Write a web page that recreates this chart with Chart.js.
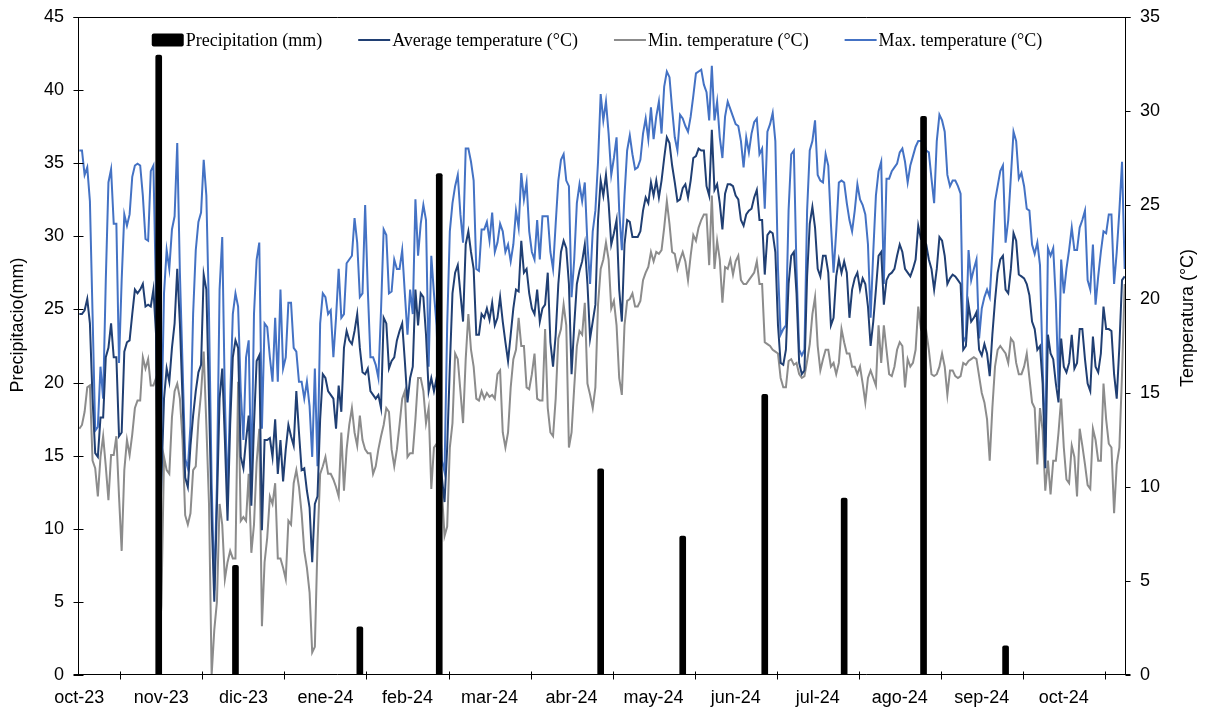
<!DOCTYPE html>
<html>
<head>
<meta charset="utf-8">
<title>Precipitación y temperatura diaria</title>
<script src="https://cdn.jsdelivr.net/npm/chart.js@4.4.1/dist/chart.umd.min.js"></script>
<style>
  html, body { margin: 0; padding: 0; background: #ffffff; }
  #wrap { width: 1206px; height: 710px; }
</style>
</head>
<body>
<div id="wrap"><canvas id="chart" width="1206" height="710"></canvas></div>
<script>
// Daily series, one value per day starting on START_DATE
const START_DATE = '2023-10-01';

const MONTH_LABELS = ['oct-23', 'nov-23', 'dic-23', 'ene-24', 'feb-24', 'mar-24', 'abr-24',
  'may-24', 'jun-24', 'jul-24', 'ago-24', 'sep-24', 'oct-24'];
const LABEL_STEP = 31;   // one month label every 31 days
const TICK_OFFSET = 16;  // tick marks sit half-way between month labels

// Rainfall events: day offset from START_DATE and amount (mm)
const RAIN_DAY = [30, 59, 106, 136, 197, 228, 259, 289, 319, 350];
const RAIN_MM = [42.4, 7.5, 3.3, 34.3, 14.1, 9.5, 19.2, 12.1, 38.2, 2.0];

const TEMP_AVG = [
  19.2, 19.2, 19.4, 20.0, 18.7, 14.7, 11.8, 11.6, 13.7, 13.7,
  16.9, 17.4, 18.7, 16.9, 16.9, 12.7, 12.9, 17.2, 17.7, 17.8,
  19.2, 20.5, 20.3, 20.5, 20.8, 19.6, 19.7, 19.6, 20.5, 18.1,
  5.5, 10.2, 14.7, 16.3, 15.6, 17.4, 18.7, 21.6, 18.7, 14.7,
  10.5, 10.0, 12.2, 13.8, 15.1, 16.1, 16.5, 21.3, 20.5, 14.7,
  8.4, 3.9, 9.0, 14.7, 16.3, 12.5, 8.2, 13.3, 16.9, 17.8,
  17.4, 11.6, 11.0, 12.5, 13.8, 9.0, 13.3, 16.7, 17.0, 7.7,
  12.5, 12.5, 12.6, 11.6, 13.6, 10.7, 12.5, 10.3, 12.0, 13.3,
  12.7, 12.2, 15.1, 12.9, 10.9, 11.0, 9.8, 8.9, 6.0, 9.1,
  9.5, 13.6, 16.0, 15.8, 15.1, 14.9, 14.7, 13.1, 15.4, 14.0,
  17.4, 18.3, 17.8, 17.6, 18.3, 19.2, 17.4, 16.1, 16.0, 16.3,
  15.1, 14.9, 14.7, 14.9, 14.2, 19.0, 18.7, 16.3, 16.7, 16.9,
  17.8, 18.3, 18.7, 16.7, 14.5, 15.8, 16.4, 20.5, 18.6, 20.3,
  20.1, 18.1, 15.1, 15.8, 15.1, 15.8, 12.1, 10.5, 9.2, 12.1,
  16.4, 20.3, 21.4, 21.8, 20.3, 18.8, 22.9, 23.6, 22.5, 21.6,
  18.1, 18.1, 19.2, 19.0, 19.5, 18.9, 19.8, 18.6, 19.0, 20.1,
  18.8, 17.7, 16.7, 18.1, 19.5, 20.5, 20.4, 23.1, 21.4, 21.6,
  20.3, 19.5, 19.2, 20.5, 18.8, 19.5, 19.7, 21.4, 17.7, 16.4,
  18.1, 20.8, 22.5, 23.1, 22.7, 20.8, 16.0, 18.6, 20.8, 21.5,
  22.0, 22.9, 20.8, 17.9, 18.8, 19.7, 24.2, 26.3, 25.5, 26.6,
  25.1, 22.9, 23.5, 24.2, 20.5, 18.8, 22.9, 24.2, 24.1, 23.3,
  23.3, 23.3, 23.6, 24.7, 25.4, 25.1, 26.2, 25.5, 26.3, 25.4,
  26.3, 27.5, 28.6, 28.3, 27.1, 26.2, 25.2, 25.3, 25.9, 26.1,
  25.4, 26.3, 27.5, 27.6, 28.0, 27.9, 27.9, 26.0, 25.5, 29.0,
  25.8, 26.1, 25.1, 23.7, 25.6, 26.1, 26.1, 26.0, 25.5, 25.3,
  24.2, 23.9, 24.5, 24.7, 24.8, 25.4, 25.8, 24.2, 24.2, 21.3,
  23.4, 23.6, 23.5, 22.5, 18.6, 16.6, 16.5, 17.3, 20.8, 22.3,
  22.5, 20.3, 16.6, 16.0, 16.2, 21.2, 24.0, 24.9, 23.8, 21.6,
  21.2, 22.3, 22.3, 21.4, 18.6, 19.0, 21.2, 22.1, 21.4, 22.0,
  21.4, 19.0, 20.5, 21.1, 21.4, 20.5, 21.1, 20.8, 19.6, 17.5,
  18.8, 20.5, 22.3, 22.5, 19.7, 21.0, 21.3, 21.4, 21.6, 22.3,
  22.9, 22.5, 21.6, 21.4, 21.2, 21.6, 22.1, 23.9, 23.2, 23.1,
  22.9, 22.1, 21.6, 20.5, 21.6, 23.3, 23.1, 22.3, 20.8, 21.1,
  21.3, 21.2, 21.0, 20.8, 17.3, 17.5, 19.7, 18.8, 19.0, 19.3,
  17.3, 17.0, 17.6, 17.1, 15.9, 18.1, 19.9, 21.4, 22.1, 22.3,
  20.5, 20.3, 21.6, 23.5, 23.1, 21.3, 21.2, 21.1, 20.8, 20.2,
  18.8, 18.4, 17.3, 17.5, 15.5, 11.0, 18.1, 17.1, 16.8, 15.5,
  14.5, 17.9, 16.4, 16.1, 16.6, 18.1, 16.3, 16.6, 18.4, 18.4,
  16.8, 15.5, 15.1, 18.0, 16.4, 16.1, 17.1, 19.6, 18.4, 18.4,
  18.3, 16.0, 14.7, 17.5, 21.0, 21.2
];

const TEMP_MIN = [
  13.1, 13.3, 14.0, 15.3, 15.4, 11.4, 11.0, 9.5, 11.6, 12.7,
  11.1, 9.3, 11.7, 11.7, 12.7, 9.5, 6.6, 10.9, 12.5, 11.7,
  12.8, 14.2, 14.6, 14.6, 16.9, 16.3, 16.8, 15.4, 15.4, 15.8,
  1.2, 3.7, 11.6, 10.9, 10.7, 13.7, 15.1, 15.5, 14.7, 12.5,
  8.5, 8.0, 8.6, 10.9, 11.1, 13.5, 15.0, 17.2, 13.3, 9.1,
  0.0, 2.4, 3.9, 9.1, 8.0, 5.1, 6.0, 6.6, 6.2, 6.2,
  15.6, 8.2, 8.4, 8.2, 10.7, 6.5, 8.0, 11.3, 13.1, 2.6,
  6.0, 7.3, 9.5, 9.1, 10.2, 6.2, 6.2, 5.7, 5.1, 8.2,
  8.0, 10.2, 10.9, 10.0, 8.6, 6.6, 5.7, 4.4, 1.2, 1.5,
  7.0, 10.7, 11.1, 11.6, 10.7, 10.7, 10.4, 10.0, 9.5, 12.9,
  9.8, 12.0, 13.3, 14.2, 12.9, 12.2, 13.8, 12.5, 12.0, 11.8,
  11.8, 10.7, 11.1, 12.0, 12.7, 13.3, 14.2, 14.0, 12.0, 11.1,
  12.0, 13.3, 14.7, 15.1, 11.6, 11.8, 11.8, 13.6, 15.8, 15.8,
  15.1, 13.4, 14.2, 9.9, 12.1, 12.3, 10.5, 9.8, 7.4, 7.9,
  12.1, 13.4, 17.1, 16.8, 15.1, 13.4, 16.8, 19.2, 17.3, 16.4,
  14.7, 14.6, 15.1, 14.7, 15.0, 14.8, 14.9, 14.7, 16.0, 16.2,
  12.9, 12.1, 12.9, 15.3, 16.8, 17.3, 19.0, 17.5, 17.5, 15.3,
  15.2, 16.0, 17.1, 14.7, 14.6, 14.6, 18.4, 14.2, 12.9, 12.7,
  14.7, 17.9, 18.4, 19.7, 18.6, 12.1, 12.9, 15.3, 17.5, 18.3,
  18.1, 19.8, 15.5, 14.9, 14.2, 15.3, 19.7, 21.6, 22.1, 23.0,
  22.1, 19.5, 19.9, 18.6, 15.8, 14.9, 18.6, 19.9, 20.0, 20.3,
  19.6, 19.6, 19.9, 21.0, 21.4, 21.7, 22.5, 22.0, 22.5, 22.4,
  22.6, 23.8, 25.2, 24.0, 22.5, 22.4, 21.6, 22.1, 22.5, 22.0,
  21.0, 22.3, 23.4, 23.1, 23.8, 24.2, 24.5, 24.5, 21.8, 25.5,
  21.6, 23.1, 22.1, 19.8, 21.7, 21.6, 22.1, 21.3, 22.0, 22.3,
  21.0, 20.8, 20.8, 21.0, 21.2, 21.4, 22.0, 20.8, 20.8, 17.7,
  17.6, 17.5, 17.3, 17.2, 17.1, 15.8, 15.3, 15.3, 16.7, 16.8,
  16.5, 16.6, 16.0, 15.8, 15.9, 16.7, 17.6, 19.2, 20.1, 17.5,
  16.2, 16.8, 17.3, 17.3, 16.4, 16.6, 16.0, 16.6, 18.4, 17.7,
  17.1, 17.1, 16.4, 16.4, 16.0, 16.4, 15.5, 14.5, 15.8, 16.2,
  15.8, 15.4, 18.6, 16.6, 18.6, 17.3, 16.0, 15.9, 16.4, 17.3,
  17.7, 17.5, 15.3, 16.8, 16.4, 16.6, 17.3, 19.6, 18.4, 18.1,
  18.3, 17.3, 16.0, 15.9, 16.0, 16.4, 17.1, 16.4, 14.9, 16.2,
  16.2, 15.9, 15.8, 15.9, 16.6, 16.5, 16.7, 16.8, 16.9, 16.8,
  15.9, 15.0, 14.5, 13.6, 11.4, 14.2, 16.4, 17.3, 17.5, 17.3,
  17.1, 16.6, 17.9, 17.7, 16.6, 16.0, 16.0, 16.4, 17.1, 15.8,
  14.5, 14.2, 11.2, 14.2, 13.0, 9.8, 11.4, 9.6, 11.4, 11.4,
  12.9, 14.7, 12.1, 10.4, 10.2, 12.2, 11.6, 9.5, 13.1, 12.2,
  11.2, 10.1, 9.9, 13.1, 12.5, 11.4, 11.4, 15.5, 13.6, 12.3,
  12.1, 8.6, 11.2, 12.1, 16.0, 20.8
];

const TEMP_MAX = [
  27.9, 27.9, 26.6, 27.0, 25.2, 19.2, 13.0, 13.2, 16.4, 14.7,
  21.0, 26.2, 26.9, 24.0, 24.0, 16.6, 21.0, 24.5, 23.9, 24.5,
  26.5, 27.1, 27.2, 27.1, 25.5, 23.2, 23.1, 26.8, 27.1, 20.0,
  7.5, 13.0, 20.3, 22.6, 21.6, 23.7, 24.4, 28.3, 21.4, 16.5,
  11.5, 11.0, 13.3, 19.2, 22.6, 24.1, 24.6, 27.4, 25.5, 19.2,
  10.2, 4.5, 10.2, 20.5, 23.3, 14.7, 9.5, 14.7, 19.2, 20.3,
  19.6, 15.1, 12.5, 16.9, 17.8, 10.2, 19.2, 22.1, 23.0, 13.1,
  18.7, 18.5, 16.9, 15.6, 19.0, 15.6, 20.5, 16.3, 16.9, 19.8,
  19.8, 17.4, 17.2, 15.6, 15.6, 14.7, 15.6, 14.3, 11.6, 16.3,
  11.1, 18.7, 20.3, 20.1, 19.2, 19.4, 16.9, 19.0, 21.6, 19.0,
  19.2, 21.9, 22.1, 22.3, 24.3, 23.0, 20.1, 20.3, 25.0, 20.5,
  16.9, 16.9, 16.5, 15.8, 19.4, 23.7, 23.4, 20.3, 20.4, 22.1,
  21.6, 21.6, 22.6, 20.3, 18.1, 20.5, 19.2, 25.3, 22.3, 24.0,
  25.0, 24.2, 16.4, 22.3, 20.3, 18.6, 14.2, 11.4, 10.8, 18.6,
  23.6, 25.1, 26.0, 26.6, 24.5, 23.0, 28.0, 28.0, 27.3, 26.3,
  21.6, 21.5, 23.7, 23.7, 24.1, 23.1, 24.6, 22.5, 23.0, 24.0,
  23.6, 22.5, 22.9, 22.0, 22.9, 24.7, 23.8, 26.7, 25.3, 26.2,
  23.6, 22.5, 22.1, 24.2, 22.1, 24.4, 24.4, 24.4, 22.5, 21.6,
  24.0, 26.3, 27.4, 27.7, 26.3, 26.0, 20.1, 22.1, 25.1, 26.1,
  25.2, 26.2, 22.9, 20.8, 23.6, 24.7, 27.3, 30.9, 29.5, 30.5,
  28.8, 26.6, 27.5, 28.6, 24.7, 22.6, 25.5, 27.9, 28.7, 27.7,
  26.9, 27.0, 27.4, 28.8, 29.6, 28.5, 30.2, 28.5, 29.7, 30.5,
  28.8, 31.3, 32.1, 31.8, 30.1, 28.6, 27.9, 29.8, 29.6, 29.2,
  28.9, 29.7, 30.8, 32.0, 32.1, 32.2, 31.4, 31.0, 29.5, 32.4,
  29.5, 30.5, 28.6, 27.5, 29.7, 30.5, 30.1, 29.7, 29.3, 29.2,
  28.4, 27.0, 28.6, 27.8, 28.8, 29.4, 29.6, 27.7, 28.0, 24.8,
  28.9, 29.3, 29.9, 28.4, 21.6, 18.1, 18.4, 18.6, 24.7, 27.7,
  27.9, 21.6, 17.3, 17.0, 17.3, 24.7, 27.9, 28.4, 29.5, 26.6,
  26.3, 26.2, 27.7, 27.1, 24.0, 21.4, 23.6, 26.2, 26.3, 26.2,
  25.1, 24.2, 23.6, 24.7, 26.1, 25.3, 25.0, 24.5, 22.9, 19.0,
  22.5, 25.5, 26.8, 27.3, 20.8, 26.4, 26.4, 26.8, 27.0, 27.2,
  27.8, 28.0, 27.3, 26.2, 27.1, 27.6, 28.1, 28.4, 28.4, 28.4,
  27.9, 27.8, 26.4, 25.1, 28.4, 29.8, 29.5, 28.9, 26.6, 26.0,
  26.3, 26.3, 26.0, 25.6, 17.7, 18.0, 22.6, 21.0, 21.6, 22.1,
  17.9, 19.5, 20.1, 20.5, 20.1, 22.5, 25.2, 26.0, 26.8, 27.1,
  23.0, 24.2, 26.5, 28.9, 28.4, 26.4, 26.7, 26.0, 24.8, 24.7,
  22.9, 22.4, 23.0, 21.8, 16.4, 12.1, 22.7, 22.3, 22.7, 19.9,
  15.3, 22.1, 20.3, 21.6, 22.6, 23.8, 22.6, 22.6, 23.8, 24.2,
  24.7, 21.0, 20.5, 22.9, 19.7, 21.2, 22.5, 23.6, 23.5, 24.5,
  24.5, 20.8, 22.5, 24.7, 27.3, 21.6
];

// One category per day
const DAY_COUNT = TEMP_AVG.length;
const dayLabels = [];
{
  const d0 = new Date(START_DATE + 'T00:00:00Z');
  for (let i = 0; i < DAY_COUNT; i++) {
    const d = new Date(d0.getTime() + i * 86400000);
    dayLabels.push(d.toISOString().slice(0, 10));
  }
}

// Rain is only recorded on a few days; every other day stays empty
const rainSeries = new Array(DAY_COUNT).fill(null);
RAIN_DAY.forEach((day, k) => { rainSeries[day] = RAIN_MM[k]; });

// Boundaries where the small tick marks of the date axis go
const TICK_DAYS = [];
for (let d = TICK_OFFSET; d < DAY_COUNT; d += LABEL_STEP) TICK_DAYS.push(d);

const SANS = '"Liberation Sans", Arial, sans-serif';
const SERIF = '"Liberation Serif", "Times New Roman", serif';

// Plot frame plus tick marks that cross the axis lines
const framePlugin = {
  id: 'frame',
  afterDraw(chart) {
    const { ctx, chartArea: a, scales } = chart;
    const L = Math.round(a.left) + 0.5;
    const R = Math.round(a.right) - 0.5;
    const T = Math.round(a.top) + 0.5;
    const B = Math.round(a.bottom) - 0.5;
    ctx.save();
    ctx.strokeStyle = '#000';
    ctx.lineWidth = 1;
    ctx.beginPath();
    ctx.moveTo(L - 5, T); ctx.lineTo(R + 5, T);
    ctx.moveTo(L - 5, B); ctx.lineTo(R + 5, B);
    ctx.moveTo(L, T); ctx.lineTo(L, B);
    ctx.moveTo(R, T); ctx.lineTo(R, B);
    scales.y.ticks.forEach(t => {
      const y = Math.round(scales.y.getPixelForValue(t.value)) + 0.5;
      ctx.moveTo(L - 5, y); ctx.lineTo(L + 5, y);
    });
    scales.y1.ticks.forEach(t => {
      const y = Math.round(scales.y1.getPixelForValue(t.value)) + 0.5;
      ctx.moveTo(R, y); ctx.lineTo(R + 5, y);
    });
    TICK_DAYS.forEach(d => {
      const x = Math.round(scales.x.getPixelForValue(d - 0.5)) + 0.5;
      ctx.moveTo(x, B - 3); ctx.lineTo(x, B + 5);
    });
    ctx.stroke();

    // Axis titles, both reading bottom to top
    ctx.fillStyle = '#000';
    ctx.font = '18px ' + SANS;
    ctx.textAlign = 'center';
    ctx.textBaseline = 'middle';
    [['Precipitacio(mm)', 18, 325], ['Temperatura (°C)', 1188, 318]].forEach(([text, x, y]) => {
      ctx.save();
      ctx.translate(x, y);
      ctx.rotate(-Math.PI / 2);
      ctx.fillText(text, 0, 0);
      ctx.restore();
    });
    ctx.restore();
  }
};

// Single-row legend placed inside the top of the plot area
const legendPlugin = {
  id: 'inlineLegend',
  afterDatasetsDraw(chart) {
    const { ctx } = chart;
    const MARK = 32, GAP = 2, SPACE = 36, CENTER_X = 597, Y = 40;
    ctx.save();
    ctx.font = '18px ' + SERIF;
    ctx.textBaseline = 'middle';
    ctx.textAlign = 'left';
    const items = chart.data.datasets.map(ds => ({ ds, w: ctx.measureText(ds.label).width }));
    const total = items.reduce((s, it) => s + MARK + GAP + it.w, 0) + SPACE * (items.length - 1);
    let x = CENTER_X - total / 2;
    items.forEach(({ ds, w }) => {
      if (ds.type === 'bar') {
        ctx.fillStyle = ds.backgroundColor;
        ctx.beginPath();
        ctx.roundRect(x, Y - 6.5, MARK, 13, 2);
        ctx.fill();
      } else {
        ctx.strokeStyle = ds.borderColor;
        ctx.lineWidth = ds.borderWidth;
        ctx.beginPath();
        ctx.moveTo(x, Y);
        ctx.lineTo(x + MARK, Y);
        ctx.stroke();
      }
      ctx.fillStyle = '#000';
      ctx.fillText(ds.label, x + MARK + GAP, Y + 1);
      x += MARK + GAP + w + SPACE;
    });
    ctx.restore();
  }
};

// Vertical axes keep a fixed width and add no extra room above the plot
const fixVertical = width => s => {
  s.width = width;
  s.paddingTop = 0;
  s.paddingBottom = 0;
};

new Chart(document.getElementById('chart'), {
  type: 'bar',
  data: {
    labels: dayLabels,
    datasets: [
      {
        type: 'bar', label: 'Precipitation (mm)', data: rainSeries, yAxisID: 'y',
        backgroundColor: '#000000', borderWidth: 0, barThickness: 6,
        borderRadius: { topLeft: 2, topRight: 2 }, borderSkipped: 'bottom', order: 0
      },
      {
        type: 'line', label: 'Average temperature (°C)', data: TEMP_AVG, yAxisID: 'y1',
        borderColor: '#203f73', borderWidth: 2, pointRadius: 0, tension: 0, order: 1
      },
      {
        type: 'line', label: 'Min. temperature (°C)', data: TEMP_MIN, yAxisID: 'y1',
        borderColor: '#8c8c8c', borderWidth: 2, pointRadius: 0, tension: 0, order: 2
      },
      {
        type: 'line', label: 'Max. temperature (°C)', data: TEMP_MAX, yAxisID: 'y1',
        borderColor: '#4472c4', borderWidth: 2, pointRadius: 0, tension: 0, order: 3
      }
    ]
  },
  options: {
    responsive: false,
    animation: false,
    devicePixelRatio: 1,
    events: [],
    layout: { padding: { top: 17, left: 0, right: 0, bottom: 0 } },
    plugins: {
      tooltip: { enabled: false },
      legend: { display: false }
    },
    scales: {
      x: {
        type: 'category',
        offset: true,
        grid: { display: false, drawTicks: false },
        border: { display: false },
        ticks: {
          autoSkip: false, maxRotation: 0, minRotation: 0, padding: 12,
          color: '#000', font: { family: SANS, size: 18 },
          callback: (value, index) => (index % LABEL_STEP === 0 ? MONTH_LABELS[index / LABEL_STEP] : '')
        },
        afterFit: s => { s.height = 35; }
      },
      y: {
        position: 'left', min: 0, max: 45,
        grid: { display: false, drawTicks: false },
        border: { display: false },
        ticks: { stepSize: 5, padding: 14, color: '#000', font: { family: SANS, size: 18 } },
        afterFit: fixVertical(78)
      },
      y1: {
        position: 'right', min: 0, max: 35,
        grid: { display: false, drawTicks: false },
        border: { display: false },
        ticks: { stepSize: 5, padding: 14, color: '#000', font: { family: SANS, size: 18 } },
        afterFit: fixVertical(80)
      }
    }
  },
  plugins: [framePlugin, legendPlugin]
});
</script>
</body>
</html>
